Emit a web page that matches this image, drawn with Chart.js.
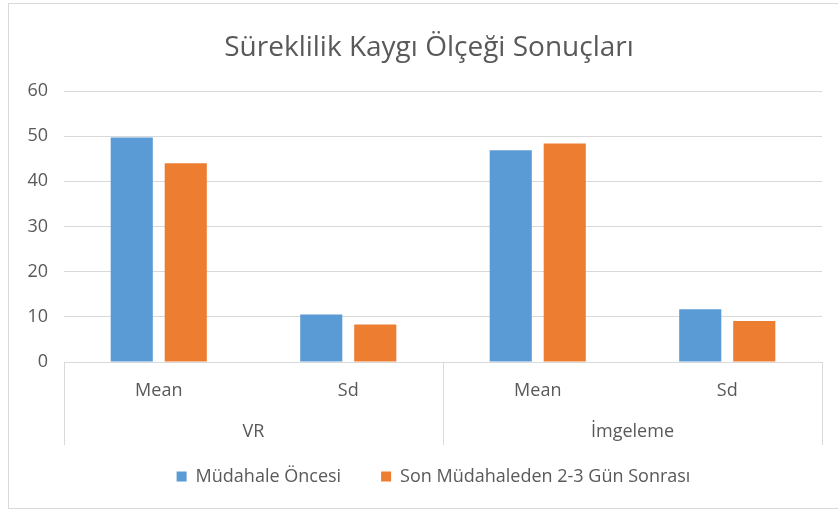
<!DOCTYPE html>
<html><head><meta charset="utf-8">
<script src="https://cdn.jsdelivr.net/npm/chart.js@4/dist/chart.umd.min.js"></script>
<style>
html,body{margin:0;padding:0;background:#fff;overflow:hidden;}
#wrap{position:absolute;left:8px;top:3px;width:829px;height:504px;border:1px solid #d9d9d9;background:#fff;}
canvas{display:block;}
</style></head>
<body>
<div id="wrap"><canvas id="c" width="829" height="504"></canvas></div>
<script>
const title = "Süreklilik Kaygı Ölçeği Sonuçları";
const categories = ["Mean", "Sd", "Mean", "Sd"];
const groups = ["VR", "İmgeleme"];
const seriesNames = ["Müdahale Öncesi", "Son Müdahaleden 2-3 Gün Sonrası"];
const before = [49.7, 10.5, 46.9, 11.7];
const after = [44.0, 8.3, 48.4, 9.1];
const yTicks = [0, 10, 20, 30, 40, 50, 60];

const FONT = "'Open Sans', sans-serif";
const TXT = "#595959";
const GRID = "#d9d9d9";

const separators = {
  id: 'separators',
  afterDraw(chart) {
    const x = chart.scales.x;
    const ctx = chart.ctx;
    const mid = (x.getPixelForValue(1) + x.getPixelForValue(2)) / 2;
    const xs = [x.left, mid, x.right];
    ctx.save();
    ctx.strokeStyle = GRID;
    ctx.lineWidth = 1;
    xs.forEach(px => {
      const p = Math.round(px) + 0.5;
      ctx.beginPath();
      ctx.moveTo(p, x.top);
      ctx.lineTo(p, x.bottom + 35);
      ctx.stroke();
    });
    ctx.restore();
  }
};

// Shift title and legend boxes horizontally to match the reference centring
const shiftBoxes = {
  id: 'shiftBoxes',
  afterLayout(chart) {
    if (chart.titleBlock) { chart.titleBlock.left += 13.5; chart.titleBlock.right += 13.5; }
    if (chart.legend) { chart.legend.left += 18; chart.legend.right += 18; }
  }
};

new Chart(document.getElementById('c'), {
  type: 'bar',
  data: {
    labels: categories,
    datasets: [
      { label: seriesNames[0], data: before, backgroundColor: '#5B9BD5', categoryPercentage: 0.57, barPercentage: 0.78 },
      { label: seriesNames[1], data: after, backgroundColor: '#ED7D31', categoryPercentage: 0.57, barPercentage: 0.78 }
    ]
  },
  options: {
    responsive: false,
    animation: false,
    layout: { padding: { left: 0, right: 16, top: 0, bottom: 12.5 } },
    plugins: {
      title: {
        display: true, text: title, color: TXT,
        font: { family: FONT, size: 28, weight: 'normal', lineHeight: 1.2 },
        padding: { top: 27, bottom: 26.4 }
      },
      legend: {
        position: 'bottom',
        labels: { color: TXT, font: { family: FONT, size: 18 }, boxWidth: 10, boxHeight: 10, padding: 40 }
      },
      tooltip: { enabled: false }
    },
    scales: {
      y: {
        min: 0, max: 60,
        afterBuildTicks(s) { s.ticks = yTicks.map(v => ({ value: v })); },
        afterFit(s) { s.width = 55; },
        ticks: { color: TXT, font: { family: FONT, size: 18 }, padding: 16 },
        grid: { color: GRID, drawTicks: false },
        border: { display: false }
      },
      x: {
        weight: 0,
        afterFit(s) { s.height = 48; },
        ticks: { color: TXT, font: { family: FONT, size: 18 }, padding: 18, maxRotation: 0 },
        grid: { display: false, drawTicks: false },
        border: { display: true, color: GRID }
      },
      x2: {
        type: 'category', position: 'bottom', weight: 1,
        labels: groups, offset: true,
        afterFit(s) { s.height = 17.5; },
        ticks: { color: TXT, font: { family: FONT, size: 18 }, padding: -32.8, mirror: true, maxRotation: 0 },
        grid: { display: false, drawTicks: false },
        border: { display: false }
      }
    }
  },
  plugins: [separators, shiftBoxes]
});
</script>
</body></html>
